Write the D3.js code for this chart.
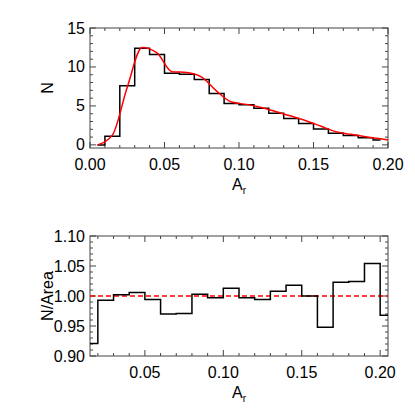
<!DOCTYPE html>
<html><head><meta charset="utf-8">
<script src="https://cdn.jsdelivr.net/npm/d3@7"></script>
<style>body{margin:0;background:#fff}svg{display:block}text{font-family:"Liberation Sans",Arial,Helvetica,sans-serif;fill:#000}</style>
</head><body>
<script>
// ---- data ----
const topCenters = [0.005,0.015,0.025,0.035,0.045,0.055,0.065,0.075,0.085,0.095,0.105,0.115,0.125,0.135,0.145,0.155,0.165,0.175,0.185,0.195];
const topCounts  = [0,1.1,7.6,12.4,11.6,9.2,9.05,8.4,6.6,5.3,5.15,4.7,4.05,3.4,2.75,2.05,1.5,1.2,0.93,0.64];
const fitX = [0.005,0.015,0.025,0.035,0.045,0.055,0.065,0.075,0.085,0.095,0.105,0.115,0.125,0.135,0.145,0.155,0.165,0.175,0.185,0.195,0.20];
const fitY = [0,1.25,7.4,12.5,11.8,9.4,9.3,8.7,6.9,5.5,5.2,4.8,4.25,3.7,3.1,2.4,1.7,1.35,1.05,0.78,0.64];
const botCenters = [0.015,0.025,0.035,0.045,0.055,0.065,0.075,0.085,0.095,0.105,0.115,0.125,0.135,0.145,0.155,0.165,0.175,0.185,0.195,0.205];
const botRatio   = [0.921,0.993,1.002,1.006,0.994,0.970,0.971,1.003,0.997,1.013,0.997,0.994,1.008,1.018,1.000,0.948,1.023,1.024,1.054,0.968];
const topXTicks = [0,0.05,0.10,0.15,0.20];
const topYTicks = [0,5,10,15];
const botXTicks = [0.05,0.10,0.15,0.20];
const botYTicks = [0.90,0.95,1.00,1.05,1.10];
const refLevel = [1.0];

const W = 415, H = 415;
const svg = d3.select("body").append("svg").attr("width",W).attr("height",H);
svg.append("rect").attr("width",W).attr("height",H).attr("fill","#fff");

const L = 90, R = 388;
function panel(o){
  const x = d3.scaleLinear().domain(o.xd).range([L,R]);
  const y = d3.scaleLinear().domain(o.yd).range([o.bottom,o.top]);
  const g = svg.append("g");
  const xt = d3.range(Math.round(o.xMinorStart*1000), Math.round(o.xd[1]*1000)+1, 10).map(v=>v/1000);
  xt.forEach(v=>{
    const major = o.xMajor.some(m=>Math.abs(m-v)<1e-9);
    const len = major?6:3;
    g.append("line").attr("x1",x(v)).attr("x2",x(v)).attr("y1",o.bottom).attr("y2",o.bottom-len).attr("stroke","#444");
    g.append("line").attr("x1",x(v)).attr("x2",x(v)).attr("y1",o.top).attr("y2",o.top+len).attr("stroke","#444");
  });
  const yt = d3.range(0, Math.round((o.yd[1]-o.yMinorStart)/o.yMinorStep)+1).map(i=>+(o.yMinorStart+i*o.yMinorStep).toFixed(4)).filter(v=>v>=o.yd[0]-1e-9);
  yt.forEach(v=>{
    const major = o.yMajor.some(m=>Math.abs(m-v)<1e-9);
    const len = major?6:3;
    g.append("line").attr("y1",y(v)).attr("y2",y(v)).attr("x1",L).attr("x2",L+len).attr("stroke","#444");
    g.append("line").attr("y1",y(v)).attr("y2",y(v)).attr("x1",R).attr("x2",R-len).attr("stroke","#444");
  });
  g.append("rect").attr("x",L).attr("y",o.top).attr("width",R-L).attr("height",o.bottom-o.top)
    .attr("fill","none").attr("stroke","#444").attr("stroke-width",1);
  o.xMajor.forEach(v=>{
    g.append("text").attr("x",x(v)).attr("y",o.bottom+22).attr("text-anchor","middle").attr("font-size",16).text(v.toFixed(2));
  });
  o.yMajor.forEach(v=>{
    g.append("text").attr("x",85).attr("y",y(v)+5.5).attr("text-anchor","end").attr("font-size",16).text(o.yFmt(v));
  });
  const xt2 = g.append("text").attr("x",239).attr("y",o.bottom+42).attr("text-anchor","middle").attr("font-size",16);
  xt2.append("tspan").text("A");
  xt2.append("tspan").attr("font-size",10).attr("dy",4).text("r");
  g.append("text").attr("transform",`translate(53,${(o.top+o.bottom)/2}) rotate(-90)`).attr("text-anchor","middle").attr("font-size",16).text(o.ytitle);
  return {x,y,g};
}

// top panel
const p1 = panel({xd:[0,0.20], yd:[-0.4,15], top:28, bottom:148, xMajor:topXTicks, yMajor:topYTicks,
  xMinorStart:0, yMinorStart:0, yMinorStep:1, yFmt:v=>String(v), ytitle:"N"});
svg.append("clipPath").attr("id","c1").append("rect").attr("x",L).attr("y",28).attr("width",R-L).attr("height",120);
svg.append("path").datum(topCenters.map((c,i)=>[c,topCounts[i]]))
  .attr("d", d3.line().x(d=>p1.x(d[0])).y(d=>p1.y(d[1])).curve(d3.curveStep))
  .attr("fill","none").attr("stroke","#000").attr("stroke-width",1.5).attr("clip-path","url(#c1)");
svg.append("path").datum(fitX.map((c,i)=>[c,fitY[i]]))
  .attr("d", d3.line().x(d=>p1.x(d[0])).y(d=>p1.y(d[1])).curve(d3.curveMonotoneX))
  .attr("fill","none").attr("stroke","#f00").attr("stroke-width",1.5).attr("clip-path","url(#c1)");

// bottom panel
const p2 = panel({xd:[0.015,0.205], yd:[0.90,1.10], top:236, bottom:356, xMajor:botXTicks, yMajor:botYTicks,
  xMinorStart:0.02, yMinorStart:0.90, yMinorStep:0.01, yFmt:v=>v.toFixed(2), ytitle:"N/Area"});
svg.append("clipPath").attr("id","c2").append("rect").attr("x",L).attr("y",236).attr("width",R-L).attr("height",120);
refLevel.forEach(v=>{
  svg.append("line").attr("x1",L).attr("x2",R).attr("y1",p2.y(v)).attr("y2",p2.y(v))
    .attr("stroke","#f00").attr("stroke-width",1.3).attr("stroke-dasharray","5,3");
});
svg.append("path").datum(botCenters.map((c,i)=>[c,botRatio[i]]))
  .attr("d", d3.line().x(d=>p2.x(d[0])).y(d=>p2.y(d[1])).curve(d3.curveStep))
  .attr("fill","none").attr("stroke","#000").attr("stroke-width",1.5).attr("clip-path","url(#c2)");
</script>
</body></html>
